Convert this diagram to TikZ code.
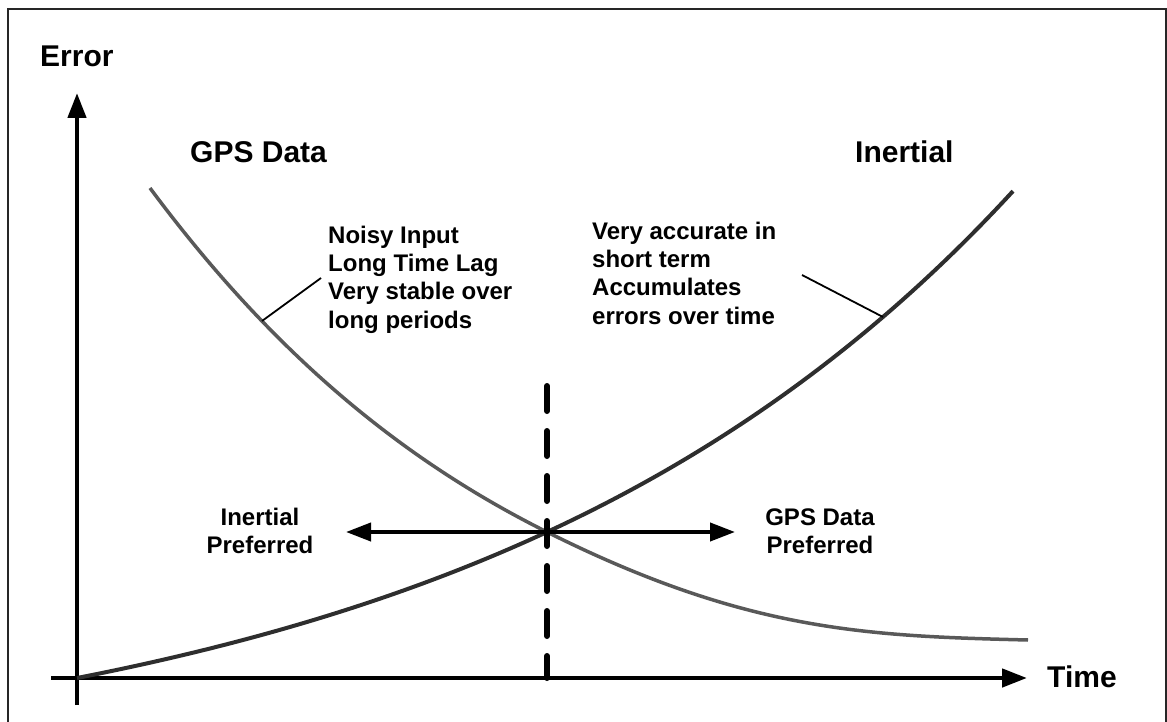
\documentclass[tikz,border=0pt]{standalone}
\usepackage{fontspec}
\setmainfont{Liberation Sans}
\usetikzlibrary{arrows.meta}

\begin{document}
\begin{tikzpicture}[x=1pt,y=-1pt,
  frameline/.style={line width=1.5pt, draw=black!85},
  axisline/.style={line width=4.5pt, -{Triangle[length=25pt,width=18pt]}},
  prefarrow/.style={line width=4pt, {Triangle[length=25pt,width=18pt]}-{Triangle[length=25pt,width=18pt]}},
  divider/.style={line width=6pt, dash pattern=on 25pt off 20pt, line cap=round},
  inertialcurve/.style={line width=4pt, draw=black!82},
  gpscurve/.style={line width=3.5pt, draw=black!65},
  leader/.style={line width=1.8pt},
  biglabel/.style={font=\bfseries\fontsize{30}{36}\selectfont, inner sep=0pt, anchor=base west},
  note/.style={font=\bfseries\fontsize{24}{28.3}\selectfont, inner sep=0pt, align=left, anchor=base west},
  prefnote/.style={font=\bfseries\fontsize{24}{28}\selectfont, inner sep=0pt, align=center, anchor=base}
]
\useasboundingbox (0,0) rectangle (1167,722);

% outer frame
\draw[frameline] (8,722) -- (8,9) -- (1166,9) -- (1166,722);

% key points
\coordinate (O) at (77,678);
\coordinate (Ytop) at (77,93);
\coordinate (Ybot) at (77,705);
\coordinate (Xleft) at (51,678);
\coordinate (Xright) at (1027,678);
\coordinate (Cross) at (547,532);
\coordinate (PrefL) at (346,532);
\coordinate (PrefR) at (735,532);
\coordinate (DivTop) at (547,386);
\coordinate (DivBot) at (547,678);
\coordinate (GpsStart) at (150,188);
\coordinate (GpsEnd) at (1028,640);

% axes
\draw[axisline] (Ybot) -- (Ytop);
\draw[axisline] (Xleft) -- (Xright);

% error curves: GPS error falls, inertial error grows
\draw[gpscurve] (GpsStart) .. controls (282,366) and (415,466) .. (Cross)
  .. controls (747,632) and (868,636) .. (GpsEnd);
\draw[inertialcurve] plot[domain=77:1013, samples=120, smooth]
  (\x, {678 - 107*(exp(0.001827*(\x-77)) - 1)});

% crossover divider and preference arrow
\draw[divider] (DivTop) -- (DivBot);
\draw[prefarrow] (PrefL) -- (PrefR);

% labels
\node[biglabel] (err) at (40,67) {Error};
\node[biglabel] (time) at (1047,687) {Time};
\node[biglabel] (gps) at (190,163) {GPS Data};
\node[biglabel] (ins) at (855,163) {Inertial};

% multi-line notes are placed by the baseline of their last line
\node[note] (gpsnote) at (328,328) {Noisy Input\\Long Time Lag\\Very stable over\\long periods};
\node[note] (insnote) at (592,324) {Very accurate in\\short term\\Accumulates\\errors over time};

\node[prefnote] (inspref) at (260,553) {Inertial\\Preferred};
\node[prefnote] (gpspref) at (820,553) {GPS Data\\Preferred};

% leader lines from notes to curves
\coordinate (gpstick) at (262,321);
\coordinate (gpslead) at (321,278);
\coordinate (instick) at (883,317);
\coordinate (inslead) at (802,275);
\draw[leader] (gpslead) -- (gpstick);
\draw[leader] (inslead) -- (instick);
\end{tikzpicture}
\end{document}
